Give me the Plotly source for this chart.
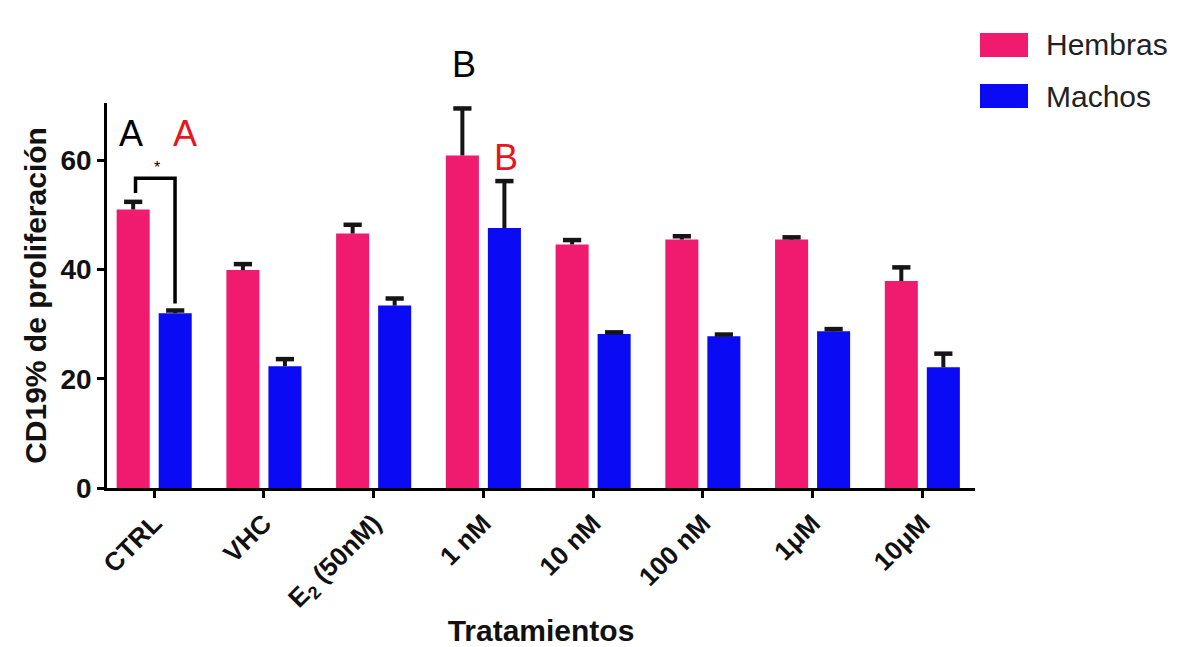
import plotly.graph_objects as go

categories = ["CTRL", "VHC", "E<sub>2</sub> (50nM)", "1 nM", "10 nM", "100 nM", "1μM", "10μM"]
hembras = [51.0, 39.9, 46.6, 60.9, 44.6, 45.5, 45.5, 37.9]
hembras_err = [1.4, 1.1, 1.6, 8.6, 0.8, 0.6, 0.4, 2.5]
machos = [32.0, 22.3, 33.4, 47.6, 28.2, 27.8, 28.7, 22.1]
machos_err = [0.5, 1.3, 1.3, 8.6, 0.3, 0.3, 0.4, 2.5]
series_names = ["Hembras", "Machos"]
colors = ["#F01A6E", "#0A0AF5"]

FONT = "Liberation Sans, Arial, sans-serif"
x_idx = list(range(len(categories)))
BARGAP = 0.234
OFF = (1 - BARGAP) / 4  # centre offset of each bar within its group

fig = go.Figure()
for k, (name, vals, errs, col) in enumerate([(series_names[0], hembras, hembras_err, colors[0]),
                                             (series_names[1], machos, machos_err, colors[1])]):
    fig.add_trace(go.Bar(
        x=x_idx, y=vals, name=name, marker=dict(color=col, line=dict(width=0)),
        showlegend=False,
    ))
    sign = -1 if k == 0 else 1
    xs = [i + sign * OFF for i in x_idx]
    tops = [v + e for v, e in zip(vals, errs)]
    # upward-only error bars: stem from bar top to value+err, cap on top
    fig.add_trace(go.Scatter(
        x=xs, y=tops, mode="markers", showlegend=False, hoverinfo="skip",
        marker=dict(symbol="line-ew", size=13, line=dict(width=4.5, color="#151515")),
        error_y=dict(type="data", symmetric=False, array=[0] * len(errs), arrayminus=errs,
                     color="#151515", thickness=4, width=0),
    ))

fig.update_layout(
    width=1178, height=639,
    paper_bgcolor="white", plot_bgcolor="white",
    margin=dict(l=99, r=211, t=95, b=159),
    barmode="group", bargap=BARGAP, bargroupgap=0.214,
    font=dict(family=FONT, color="black"),
)
fig.update_xaxes(
    tickmode="array", tickvals=x_idx, ticktext=categories,
    range=[-0.43, 7.48], showline=True, linecolor="black", linewidth=2.5,
    ticks="outside", ticklen=7, tickwidth=2.5, tickcolor="black",
    tickangle=-45, tickfont=dict(size=26, family=FONT, color="#111", weight="bold"),
    showgrid=False, zeroline=False, automargin=False,
    title=dict(text="<b>Tratamientos</b>", font=dict(size=30, family=FONT, color="#111"), standoff=10),
)
fig.update_yaxes(
    range=[0, 70.5], tickvals=[0, 20, 40, 60], showline=True, linecolor="black", linewidth=2.5,
    ticks="outside", ticklen=7, tickwidth=2.5, tickcolor="black",
    tickfont=dict(size=28, family=FONT, color="#111", weight="bold"),
    showgrid=False, zeroline=False, automargin=False,
    title=dict(text="<b>CD19% de proliferación</b>", font=dict(size=30, family=FONT, color="#111"), standoff=5),
)

# significance letters
letters = [("A", -0.21, 64.9, "black", "y"), ("A", 0.28, 64.9, "#E8141E", "y"),
           ("B", 2.82, (488 - 65) / 385, "black", "paper"), ("B", 3.21, 60.5, "#E8141E", "y")]
for txt, xx, yy, col, yr in letters:
    fig.add_annotation(x=xx, y=yy, xref="x", yref=yr, text=txt, showarrow=False,
                       font=dict(size=36, family=FONT, color=col), yanchor="middle")

# bracket CTRL
bl, br, btop = -0.17, 0.19, 56.7
fig.add_shape(type="path", xref="x", yref="y",
              path=f"M {bl},54.0 L {bl},{btop} L {br},{btop} L {br},33.8",
              line=dict(color="black", width=3.5))
fig.add_annotation(x=0.03, y=58.6, xref="x", yref="y", text="*", showarrow=False,
                   font=dict(size=16, family=FONT, color="black"))

# manual legend
leg = [(series_names[0], colors[0], 33, 57, 45), (series_names[1], colors[1], 84, 108, 96)]
for name, col, y0, y1, yc in leg:
    fig.add_shape(type="rect", xref="paper", yref="paper",
                  x0=(980 - 107) / 868, x1=(1028 - 107) / 868,
                  y0=(488 - y1) / 385, y1=(488 - y0) / 385,
                  fillcolor=col, line=dict(width=0))
    fig.add_annotation(xref="paper", yref="paper", x=(1044 - 107) / 868, y=(488 - yc) / 385,
                       text=name, showarrow=False, xanchor="left", yanchor="middle",
                       font=dict(size=30, family=FONT, color="#222"))

fig.write_html("out.html")
